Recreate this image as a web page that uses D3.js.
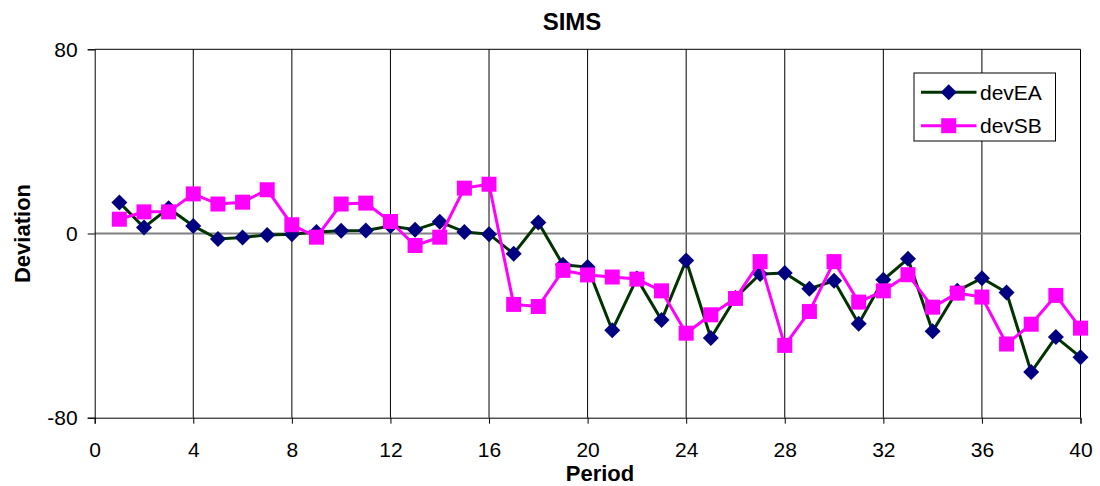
<!DOCTYPE html>
<html>
<head>
<meta charset="utf-8">
<script src="https://cdn.jsdelivr.net/npm/d3@7"></script>
<style>
  html, body { margin: 0; padding: 0; background: #fff; }
  svg { display: block; font-family: "Liberation Sans", Arial, sans-serif; }
</style>
</head>
<body>
<svg id="chart" width="1100" height="486"></svg>
<script>
// Periods 1..40 and the two deviation series
const periods = d3.range(1, 41);
const devEA = [13.5, 2.6, 11, 3.3, -2.4, -1.7, -0.6, -0.3, 0.6, 1.2,
               1.3, 3.3, 1.6, 5.1, 0.7, -0.3, -8.8, 4.8, -13.6, -14.6,
               -42, -19.5, -37.6, -11.7, -45.4, -28, -17.6, -17.2, -24, -20.5,
               -39.2, -20.1, -11, -42.5, -24.9, -19.4, -25.6, -60.2, -45, -53.7];
const devSB = [6.2, 9.4, 9.4, 17.2, 12.8, 13.6, 19, 3.8, -1.6, 12.8,
               13.2, 5.2, -5.2, -1.6, 19.7, 21.4, -30.8, -31.7, -16, -18,
               -18.9, -19.8, -24.9, -43.3, -35.3, -28.2, -12.2, -48.6, -33.9, -12.2,
               -29.8, -24.9, -17.9, -32, -25.9, -27.6, -48, -39.4, -26.9, -41.1];
const xTicks = [0, 4, 8, 12, 16, 20, 24, 28, 32, 36, 40];
const yTicks = [-80, 0, 80];
const seriesNames = ["devEA", "devSB"];

const svg = d3.select("#chart");
const plotLeft = 94.7, plotRight = 1080.5, plotTop = 49.3, plotBottom = 417.7;

const x = d3.scaleLinear().domain([0, 40]).range([plotLeft, plotRight]);
const y = d3.scaleLinear().domain([-80, 80]).range([plotBottom, plotTop]);

// Title
svg.append("text")
  .attr("x", 572).attr("y", 29.5)
  .attr("text-anchor", "middle")
  .attr("font-size", 24).attr("font-weight", "bold")
  .text("SIMS");

// Vertical grid lines
svg.append("g").selectAll("line")
  .data(xTicks.filter(d => d > 0))
  .join("line")
  .attr("x1", d => x(d)).attr("x2", d => x(d))
  .attr("y1", plotTop).attr("y2", plotBottom)
  .attr("stroke", "#000").attr("stroke-width", 1);

// Top frame line
svg.append("line")
  .attr("x1", plotLeft).attr("x2", plotRight)
  .attr("y1", plotTop).attr("y2", plotTop)
  .attr("stroke", "#000").attr("stroke-width", 1);

// Zero line
svg.append("line")
  .attr("x1", plotLeft).attr("x2", plotRight)
  .attr("y1", y(0)).attr("y2", y(0))
  .attr("stroke", "#808080").attr("stroke-width", 2);

// Axes (plain hyphen for negative labels)
const plain = d => String(d);

const xAxis = d3.axisBottom(x).tickValues(xTicks).tickFormat(plain).tickSize(6).tickPadding(18);
const gx = svg.append("g").attr("transform", `translate(0,${plotBottom})`).call(xAxis);
gx.select(".domain").attr("stroke", "#000").attr("stroke-width", 1);
gx.selectAll(".tick line").attr("stroke", "#000");
gx.selectAll(".tick text")
  .attr("font-size", 21).attr("fill", "#000")
  .attr("font-family", "Liberation Sans, Arial, sans-serif");

const yAxis = d3.axisLeft(y).tickValues(yTicks).tickFormat(plain).tickSize(7).tickPadding(10);
const gy = svg.append("g").attr("transform", `translate(${plotLeft},0)`).call(yAxis);
gy.select(".domain").attr("stroke", "#000").attr("stroke-width", 1);
gy.selectAll(".tick line").attr("stroke", "#000");
gy.selectAll(".tick text")
  .attr("font-size", 21).attr("fill", "#000")
  .attr("font-family", "Liberation Sans, Arial, sans-serif");

// Axis titles
svg.append("text")
  .attr("x", 600).attr("y", 480.5)
  .attr("text-anchor", "middle")
  .attr("font-size", 22).attr("font-weight", "bold")
  .text("Period");

svg.append("text")
  .attr("transform", `translate(30,${y(0)}) rotate(-90)`)
  .attr("text-anchor", "middle")
  .attr("font-size", 22).attr("font-weight", "bold")
  .text("Deviation");

// Marker shapes
const diamond = "M0,-8L8,0L0,8L-8,0Z";
const square = "M-7.5,-7.5H7.5V7.5H-7.5Z";

const line = d3.line().x((d, i) => x(periods[i])).y(d => y(d));

const series = [
  { name: seriesNames[0], values: devEA, stroke: "#003300", fill: "#000080", shape: diamond },
  { name: seriesNames[1], values: devSB, stroke: "#ff00ff", fill: "#ff00ff", shape: square }
];

series.forEach(s => {
  svg.append("path")
    .datum(s.values)
    .attr("d", line)
    .attr("fill", "none")
    .attr("stroke", s.stroke)
    .attr("stroke-width", 3)
    .attr("stroke-linejoin", "miter");
  svg.append("g").selectAll("path")
    .data(s.values)
    .join("path")
    .attr("transform", (d, i) => `translate(${x(periods[i])},${y(d)})`)
    .attr("d", s.shape)
    .attr("fill", s.fill);
});

// Legend
const lg = svg.append("g");
lg.append("rect")
  .attr("x", 914).attr("y", 73)
  .attr("width", 141.5).attr("height", 68)
  .attr("fill", "#fff").attr("stroke", "#000").attr("stroke-width", 1);
series.forEach((s, i) => {
  const cy = 92.3 + i * 33.4;
  lg.append("line")
    .attr("x1", 921).attr("x2", 976.5)
    .attr("y1", cy).attr("y2", cy)
    .attr("stroke", s.stroke).attr("stroke-width", 3);
  lg.append("path")
    .attr("transform", `translate(948.7,${cy})`)
    .attr("d", s.shape)
    .attr("fill", s.fill);
  lg.append("text")
    .attr("x", 980).attr("y", cy + 7.5)
    .attr("font-size", 21)
    .text(s.name);
});
</script>
</body>
</html>
